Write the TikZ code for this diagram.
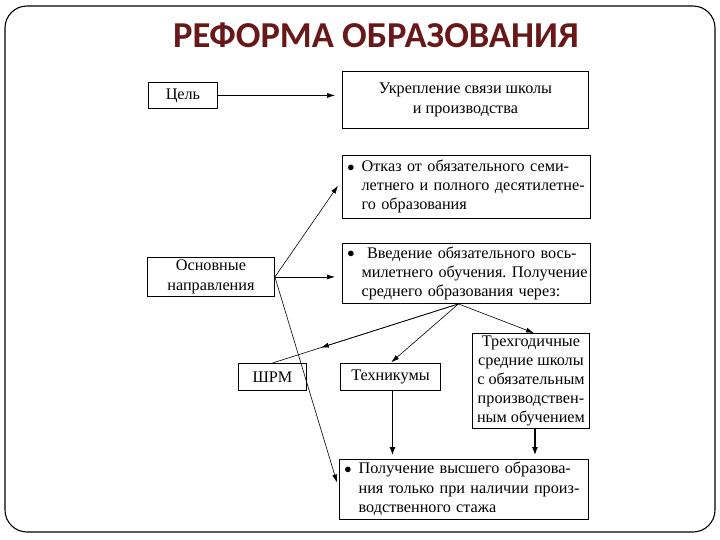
\documentclass[tikz,border=0pt]{standalone}
\usepackage{fontspec}
\setmainfont{Liberation Serif}
\newfontfamily\titlefont{Carlito}
\usetikzlibrary{arrows.meta,calc}
\definecolor{titlered}{RGB}{104,24,24}
\newcommand\boxfont{\fontsize{16.2}{19.2}\selectfont\frenchspacing}
\newcommand\bul{\raisebox{0.3pt}{\Large$\bullet$}}
\begin{document}
\begin{tikzpicture}[x=1pt,y=-1pt,
  box/.style={draw,line width=0.9pt,inner xsep=6pt,inner ysep=1pt,font=\boxfont,anchor=north west},
  cbox/.style={box,align=center},
  lbox/.style={box,align=left},
  conn/.style={line width=0.6pt,-{Latex[length=8pt,width=5pt]}},
  thick conn/.style={line width=1.2pt,-{Latex[length=8pt,width=6pt]}},
  plain/.style={line width=0.6pt}]
\useasboundingbox (0,0) rectangle (720,540);
\draw[line width=1.1pt,rounded corners=22pt] (5,6) rectangle (715,532);
\node[font=\titlefont\bfseries\fontsize{36.5}{40}\selectfont,text=titlered] (title) at (376,35) {РЕФОРМА ОБРАЗОВАНИЯ};

\node[cbox,minimum width=69pt,minimum height=26pt] (cel) at (148,82) {Цель};
\node[cbox,minimum width=246pt,minimum height=57pt] (ukr) at (342,71) {Укрепление связи школы\\и производства};
\node[lbox,minimum width=248pt,minimum height=63pt,text width=238pt,inner xsep=5pt] (otk) at (342,155)
  {\begin{tabular}{@{}l@{\hspace{7pt}}l@{}}\bul & Отказ от обязательного семи-\\ & летнего и полного десятилетне-\\ & го образования\end{tabular}};
\node[cbox,minimum width=127pt,minimum height=39pt] (osn) at (147,257) {Основные\\направления};
\node[lbox,minimum width=248pt,minimum height=60pt,text width=238pt,inner xsep=5pt] (vved) at (342,243)
  {\begin{tabular}{@{}l@{\hspace{7pt}}l@{}}\bul & \ Введение обязательного вось-\\ & милетнего обучения. Получение\\ & среднего образования через:\end{tabular}};
\node[cbox,minimum width=68pt,minimum height=27pt] (shrm) at (238,363) {ШРМ};
\node[cbox,minimum width=100pt,minimum height=27pt] (tekh) at (340,363) {Техникумы};
\node[cbox,minimum width=117pt,minimum height=95pt,inner xsep=0pt] (treh) at (472,333)
  {Трехгодичные\\средние школы\\с обязательным\\производствен-\\ным обучением};
\node[lbox,minimum width=249pt,minimum height=59pt,text width=239pt,inner xsep=5pt] (polu) at (339,459)
  {\begin{tabular}{@{}l@{\hspace{7pt}}l@{}}\bul & Получение высшего образова-\\ & ния только при наличии произ-\\ & водственного стажа\end{tabular}};

\coordinate (vs) at ([xshift=-8pt]vved.south);

\draw[conn,shorten >=7pt] (cel.east) -- (cel.east -| ukr.west);
\draw[conn,shorten >=7pt] (osn.east) -- ([yshift=7pt]otk.west);
\draw[conn,shorten >=7pt] (osn.east) -- (osn.east -| vved.west);
\draw[conn,shorten >=7pt] (osn.east) -- (polu.west);
\draw[plain] (vs) -- (shrm.north);
\draw[conn] (vs) -- ($(vs)!0.74!(shrm.north)$);
\draw[conn,shorten >=1pt] (vs) -- (tekh.north);
\draw[conn] (vs) -- ([xshift=3pt]treh.north);
\draw[thick conn,shorten >=4pt] ([xshift=2pt]tekh.south) -- ([xshift=2pt]tekh.south |- polu.north);
\draw[thick conn,shorten >=4pt] ([xshift=4pt]treh.south) -- ([xshift=4pt]treh.south |- polu.north);
\end{tikzpicture}
\end{document}
